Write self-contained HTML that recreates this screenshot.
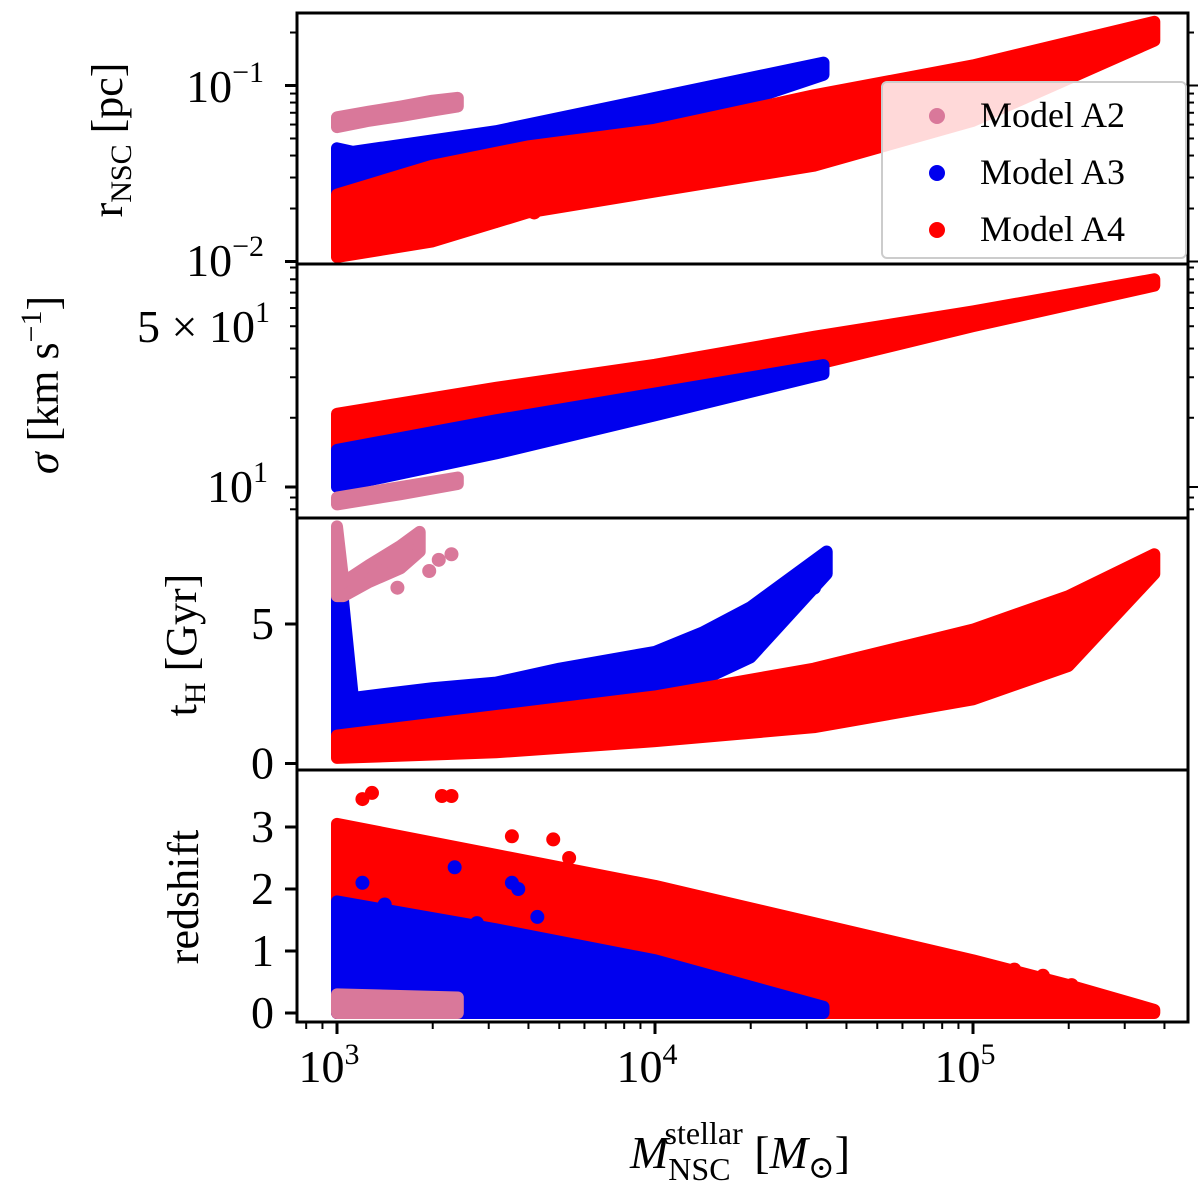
<!DOCTYPE html>
<html><head><meta charset="utf-8"><style>
html,body{margin:0;padding:0;background:#fff;width:1200px;height:1200px;overflow:hidden}
svg{display:block}
text{font-family:"Liberation Serif","DejaVu Serif",serif;fill:#000}
</style></head><body>
<svg id="chart" width="1200" height="1200" viewBox="0 0 1200 1200" xmlns="http://www.w3.org/2000/svg">
<g id="marks"></g>
<g id="axes"></g>
<g id="labels">
 <text transform="translate(122,140) rotate(-90)" text-anchor="middle" font-size="44">r<tspan font-size="30" dy="9">NSC</tspan><tspan dy="-9"> [pc]</tspan></text>
 <text transform="translate(58,385) rotate(-90)" text-anchor="middle" font-size="44"><tspan font-style="italic">σ</tspan> [km s<tspan font-size="30" dy="-17">−1</tspan><tspan dy="17">]</tspan></text>
 <text transform="translate(196,645) rotate(-90)" text-anchor="middle" font-size="44">t<tspan font-size="30" dy="9">H</tspan><tspan dy="-9"> [Gyr]</tspan></text>
 <text transform="translate(198,897) rotate(-90)" text-anchor="middle" font-size="44">redshift</text>
 <text x="740" y="1168" text-anchor="middle" font-size="46"><tspan font-style="italic">M</tspan><tspan font-size="32" dy="12">NSC</tspan><tspan font-size="32" dx="-66" dy="-36">stellar</tspan><tspan dy="24"> [</tspan><tspan font-style="italic">M</tspan><tspan font-size="32" dy="10">⊙</tspan><tspan dy="-10">]</tspan></text>
</g>
<g id="legend">
 <rect x="882" y="82" width="304" height="176" rx="5" fill="rgba(255,255,255,0.85)" stroke="#ccc" stroke-width="2"/>
 <circle cx="937" cy="116" r="8" fill="#d9789a"/>
 <text x="980" y="127" font-size="36">Model A2</text>
 <circle cx="937" cy="173" r="8" fill="#0000ee"/>
 <text x="980" y="184" font-size="36">Model A3</text>
 <circle cx="937" cy="230" r="8" fill="#ff0000"/>
 <text x="980" y="241" font-size="36">Model A4</text>
</g>
</svg>
<script>
// ---- data (x = log10 M_stellar) ----
const a2RadiusLm=[3.0,3.1,3.2,3.3,3.38];
const a2RadiusLo=[0.058,0.063,0.067,0.072,0.076];
const a2RadiusHi=[0.066,0.071,0.076,0.082,0.085];
const a3RadiusLm=[3.0,3.05,3.5,4.0,4.53];
const a3RadiusLo=[0.021,0.026,0.033,0.055,0.115];
const a3RadiusHi=[0.044,0.042,0.055,0.085,0.135];
const a4RadiusLm=[3.0,3.3,3.6,4.0,4.5,5.0,5.57];
const a4RadiusLo=[0.0106,0.013,0.019,0.025,0.035,0.063,0.18];
const a4RadiusHi=[0.024,0.035,0.045,0.056,0.088,0.13,0.23];
const a4RadiusOutLm=[3.08,3.15,3.22,3.35,3.5,3.62];
const a4RadiusOutV=[0.013,0.0135,0.014,0.016,0.017,0.019];

const a2SigmaLm=[3.0,3.2,3.38];
const a2SigmaLo=[8.4,9.3,10.3];
const a2SigmaHi=[9.0,10.0,11.0];
const a3SigmaLm=[3.0,3.5,4.0,4.53];
const a3SigmaLo=[10.0,14.0,20.5,31];
const a3SigmaHi=[14.5,19.5,25.5,33.9];
const a4SigmaLm=[3.0,3.5,4.0,4.5,5.0,5.57];
const a4SigmaLo=[12,17,25,34,50,75];
const a4SigmaHi=[20.8,27,34,45,58,80];

const a2TimeLm=[3.0,3.02,3.1,3.2,3.26];
const a2TimeLo=[6.0,6.0,6.5,7.0,7.6];
const a2TimeHi=[8.5,6.5,7.1,7.8,8.3];
const a2TimeOutLm=[3.32,3.36,3.29,3.19];
const a2TimeOutV=[7.3,7.5,6.9,6.3];
const a3TimeLm=[3.0,3.05,3.3,3.5,3.7,4.0,4.15,4.3,4.54];
const a3TimeLo=[0.5,0.5,0.9,1.2,1.6,2.3,3.0,3.8,6.8];
const a3TimeHi=[8.0,2.35,2.7,2.9,3.4,4.0,4.7,5.6,7.6];
const a4TimeLm=[3.0,3.5,4.0,4.5,5.0,5.3,5.57];
const a4TimeLo=[0.2,0.4,0.8,1.3,2.3,3.5,6.8];
const a4TimeHi=[1.0,1.7,2.4,3.4,4.8,6.0,7.5];

const a2ZLm=[3.0,3.38];
const a2ZLo=[0,0];
const a2ZHi=[0.3,0.25];
const a3ZLm=[3.0,3.5,4.0,4.53];
const a3ZLo=[0,0,0,0];
const a3ZHi=[1.8,1.35,0.85,0.1];
const a4ZLm=[3.0,3.5,4.0,4.5,5.0,5.3,5.57];
const a4ZLo=[0,0,0,0,0,0,0];
const a4ZHi=[3.05,2.55,2.05,1.45,0.85,0.45,0.05];

const a4ZOutLm=[3.08,3.11,3.33,3.36,3.55,3.68,3.74,3.78,3.68,3.88,3.73,4.06,4.08,4.3,4.21,4.51,5.13,5.22,4.9,5.31,5.22,4.43];
const a4ZOutV=[3.45,3.55,3.5,3.5,2.85,2.8,2.25,2.05,1.95,1.7,2.5,1.45,1.55,1.1,0.95,1.05,0.7,0.6,0.9,0.45,0.5,1.3];
const a3ZOutLm=[3.08,3.15,3.37,3.57,3.63,3.86,3.44,3.55];
const a3ZOutV=[2.1,1.75,2.35,2.0,1.55,0.95,1.45,2.1];
const a3TimeOutLm=[4.5,4.45,4.35,4.2,4.0,3.85,3.7];
const a3TimeOutV=[6.3,6.7,5.3,4.9,3.7,3.5,2.5];
const a4TimeOutLm=[5.1,5.2,5.3,5.0,4.75,4.6];
const a4TimeOutV=[4.2,3.3,3.6,3.2,2.6,2.2];

// ---- axes ----
const XL=297,XR=1188;
const X0=337,DEC=318;
function xs(lm){return X0+(lm-3)*DEC;}
const panels=[
 {top:13,bot:264,y:v=>85.5-(Math.log10(v)+1)*176},
 {top:264,bot:518,y:v=>487-(Math.log10(v)-1)*230},
 {top:518,bot:770,y:v=>763.5-v*27.9},
 {top:770,bot:1022,y:v=>1013-v*62}
];
const NS="http://www.w3.org/2000/svg";
const marks=document.getElementById('marks');
const axes=document.getElementById('axes');
function mk(tag,attrs,parent){const e=document.createElementNS(NS,tag);for(const k in attrs)e.setAttribute(k,attrs[k]);parent.appendChild(e);return e;}

const defs=mk('defs',{},document.getElementById('chart'));
panels.forEach((p,i)=>{const c=mk('clipPath',{id:'clip'+i},defs);mk('rect',{x:XL,y:p.top,width:XR-XL,height:p.bot-p.top},c);});

function band(pi,lm,lo,hi,color,name){
 const p=panels[pi];
 let pts=[];
 for(let i=0;i<lm.length;i++)pts.push(xs(lm[i]).toFixed(1)+','+p.y(hi[i]).toFixed(1));
 for(let i=lm.length-1;i>=0;i--)pts.push(xs(lm[i]).toFixed(1)+','+p.y(lo[i]).toFixed(1));
 const e=mk('polygon',{points:pts.join(' '),fill:color,stroke:color,'stroke-width':12,'stroke-linejoin':'round','clip-path':'url(#clip'+pi+')'},marks);
 
 
}
function dots(pi,lm,v,color,name){
 const p=panels[pi];
 for(let i=0;i<lm.length;i++){
  const c=mk('circle',{cx:xs(lm[i]),cy:p.y(v[i]),r:7,fill:color,'clip-path':'url(#clip'+pi+')'},marks);
  
  
 }
}
const C2='#d9789a',C3='#0000ee',C4='#ff0000';
band(0,a3RadiusLm,a3RadiusLo,a3RadiusHi,C3,'a3-radius-band');
band(0,a4RadiusLm,a4RadiusLo,a4RadiusHi,C4,'a4-radius-band');
dots(0,a4RadiusOutLm,a4RadiusOutV,C4,'a4-radius-outlier');
band(0,a2RadiusLm,a2RadiusLo,a2RadiusHi,C2,'a2-radius-band');
band(1,a4SigmaLm,a4SigmaLo,a4SigmaHi,C4,'a4-sigma-band');
band(1,a3SigmaLm,a3SigmaLo,a3SigmaHi,C3,'a3-sigma-band');
band(1,a2SigmaLm,a2SigmaLo,a2SigmaHi,C2,'a2-sigma-band');
band(2,a3TimeLm,a3TimeLo,a3TimeHi,C3,'a3-time-band');
band(2,a4TimeLm,a4TimeLo,a4TimeHi,C4,'a4-time-band');
band(2,a2TimeLm,a2TimeLo,a2TimeHi,C2,'a2-time-band');
dots(2,a2TimeOutLm,a2TimeOutV,C2,'a2-time-outlier');
dots(2,a3TimeOutLm,a3TimeOutV,C3,'a3-time-outlier');
dots(2,a4TimeOutLm,a4TimeOutV,C4,'a4-time-outlier');
band(3,a4ZLm,a4ZLo,a4ZHi,C4,'a4-redshift-band');
dots(3,a4ZOutLm,a4ZOutV,C4,'a4-redshift-outlier');
band(3,a3ZLm,a3ZLo,a3ZHi,C3,'a3-redshift-band');
dots(3,a3ZOutLm,a3ZOutV,C3,'a3-redshift-outlier');
band(3,a2ZLm,a2ZLo,a2ZHi,C2,'a2-redshift-band');

panels.forEach((p,i)=>{const r=mk('rect',{x:XL,y:p.top,width:XR-XL,height:p.bot-p.top,fill:'none',stroke:'#000','stroke-width':3},axes);});

function tick(x1,y1,x2,y2,w){mk('line',{x1,y1,x2,y2,stroke:'#000','stroke-width':w},axes);}
function label(x,y,html,anchor,size,name){const t=mk('text',{x,y,'text-anchor':anchor,'font-size':size},axes);t.innerHTML=html;}

for(let d=2;d<=5;d++){for(let m=1;m<10;m++){const lm=d+Math.log10(m);const x=xs(lm);if(x<XL||x>XR)continue;
 if(m===1){tick(x,1022,x,1034,3);}else tick(x,1022,x,1029,2);}}
const xTickLabels=['3','4','5'];
xTickLabels.forEach(e=>label(xs(+e)-8,1082,'10<tspan font-size="30" dy="-18">'+e+'</tspan>','middle',46,'x-tick-label-1e'+e));

function logTicks(p,vmin,vmax){for(let d=Math.floor(Math.log10(vmin))-1;d<=Math.ceil(Math.log10(vmax));d++){for(let m=1;m<10;m++){const v=m*Math.pow(10,d);const y=p.y(v);if(y<p.top-1||y>p.bot+1)continue;
 tick(XL,y,XL-(m===1?12:7),y,m===1?3:2);tick(XR,y,XR+(m===1?10:6),y,2);}}}
logTicks(panels[0],0.01,0.3);
logTicks(panels[1],8,100);
label(264,102,'10<tspan font-size="30" dy="-20">−1</tspan>','end',46,'y-tick-label-0.1');
label(264,276,'10<tspan font-size="30" dy="-20">−2</tspan>','end',46,'y-tick-label-0.01');
label(270,342,'5 × 10<tspan font-size="30" dy="-20">1</tspan>','end',46,'y-tick-label-50');
label(268,502,'10<tspan font-size="30" dy="-20">1</tspan>','end',46,'y-tick-label-10');
const tTicks=[0,5];
tTicks.forEach(v=>{const y=panels[2].y(v);tick(XL,y,XL-12,y,3);label(274,y+15,String(v),'end',46,'y-tick-label-t'+v);});
const zTicks=[0,1,2,3];
zTicks.forEach(v=>{const y=panels[3].y(v);tick(XL,y,XL-12,y,3);label(274,y+15,String(v),'end',46,'y-tick-label-z'+v);});
</script>
</body></html>
